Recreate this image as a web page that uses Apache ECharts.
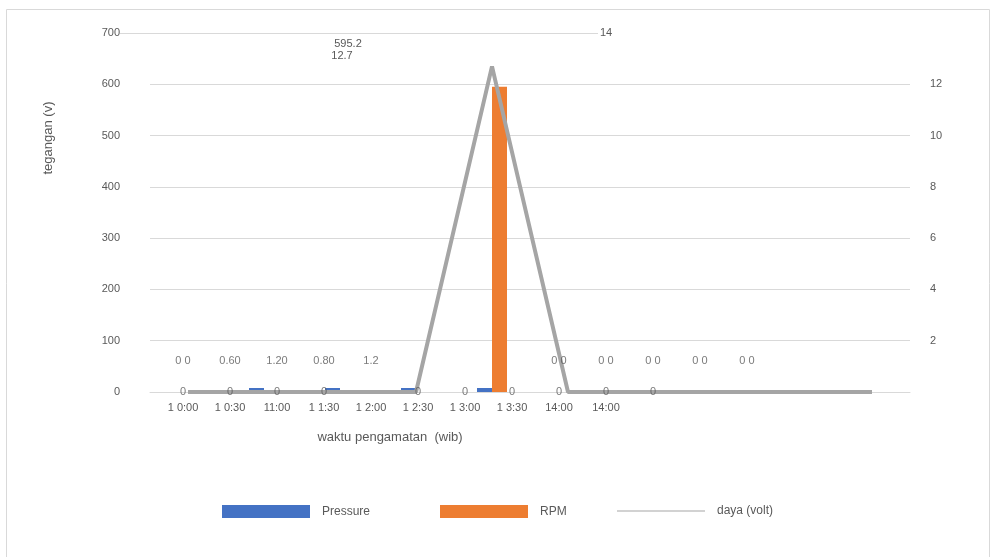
<!DOCTYPE html>
<html><head><meta charset="utf-8">
<script src="https://cdn.jsdelivr.net/npm/echarts@6/dist/echarts.min.js"></script>
<style>html,body{margin:0;padding:0;background:#fff}#c{width:995px;height:557px}</style>
</head><body><div id="c"></div>
<script>
// ---- data ----
var times = ['1 0:00','1 0:30','11:00','1 1:30','1 2:00','1 2:30','1 3:00','1 3:30','14:00','14:00'];
var pressure = [0, 0.6, 1.2, 0.8, 1.2, 0, 0, 0, 0, 0];
var rpm = [0, 0, 0, 0, 595.2, 0, 0, 0, 0, 0];
var daya = [0, 0, 0, 0, 12.7, 0, 0, 0, 0, 0];
// tick-label / data-label row (Excel's shifted label slots)
var slotLabels = ['1 0:00','1 0:30','11:00','1 1:30','1 2:00','1 2:30','1 3:00','1 3:30','14:00','14:00','','',''];
var upperLabels = ['0 0','0.60','1.20','0.80','1.2','','','','0 0','0 0','0 0','0 0','0 0'];
var zeroLabels = ['0','0','0','0','','0','0','0','0','0','0','',''];
var leftTicks = [0, 700, 100];
var rightTicks = [0, 14, 2];

var FONT = 'Liberation Sans';
var TXT = '#595959';
var GRID = '#d9d9d9';

function slotData(arr) {
  var out = [];
  arr.forEach(function (t, i) { if (t !== '') out.push({ value: [i, 0], label: { formatter: t } }); });
  return out;
}

var legendText = { color: TXT, fontSize: 12, padding: [0, 0, 0, 7] };

var chart = echarts.init(document.getElementById('c'));
chart.setOption({
  animation: false,
  textStyle: { fontFamily: FONT },
  grid: [
    { left: 150, right: 85, top: 33, bottom: 165 },
    { left: 159.5, right: 224.5, top: 33, bottom: 165 }
  ],
  legend: [
    { left: 222, top: 505, padding: 0, itemWidth: 88, itemHeight: 13, data: [{ name: 'Pressure', icon: 'rect' }], textStyle: legendText },
    { left: 440, top: 505, padding: 0, itemWidth: 88, itemHeight: 13, data: [{ name: 'RPM', icon: 'rect' }], textStyle: legendText },
    { left: 617, top: 505, padding: 0, itemWidth: 88, itemHeight: 13, data: [{ name: 'daya (volt)', icon: 'path://M0,6 L88,6 L88,7 L0,7 Z' }], textStyle: legendText }
  ],
  xAxis: [
    { type: 'category', gridIndex: 0, data: times,
      axisLine: { lineStyle: { color: GRID } }, axisTick: { show: false }, axisLabel: { show: false } },
    { type: 'category', gridIndex: 1, data: slotLabels,
      axisLine: { show: false }, axisTick: { show: false },
      axisLabel: { color: TXT, fontSize: 11, margin: 10, interval: 0 } }
  ],
  yAxis: [
    { type: 'value', gridIndex: 0, min: leftTicks[0], max: leftTicks[1], interval: leftTicks[2],
      axisLine: { show: false }, axisTick: { show: false },
      axisLabel: { color: TXT, fontSize: 11, margin: 30 },
      splitLine: { lineStyle: { color: GRID }, showMaxLine: false } },
    { type: 'value', gridIndex: 0, position: 'right', min: rightTicks[0], max: rightTicks[1], interval: rightTicks[2],
      axisLine: { show: false }, axisTick: { show: false }, splitLine: { show: false },
      axisLabel: { color: TXT, fontSize: 11, margin: 20, showMinLabel: false, showMaxLabel: false } },
    { type: 'value', gridIndex: 1, min: leftTicks[0], max: leftTicks[1], show: false }
  ],
  series: [
    { name: 'Pressure', type: 'bar', xAxisIndex: 0, yAxisIndex: 0, barWidth: 15, barGap: '0%', barMinHeight: 4,
      itemStyle: { color: '#4472c4' }, z: 3,
      data: pressure.map(function (v) { return v === 0 ? '-' : v; }) },
    { name: 'RPM', type: 'bar', xAxisIndex: 0, yAxisIndex: 0, barWidth: 15, barGap: '0%',
      itemStyle: { color: '#ed7d31' }, data: rpm },
    { name: 'daya (volt)', type: 'line', xAxisIndex: 0, yAxisIndex: 1, symbol: 'none',
      itemStyle: { color: '#a5a5a5' }, lineStyle: { color: '#a5a5a5', width: 4 }, data: daya },
    { name: 'zeroLbl', type: 'scatter', xAxisIndex: 1, yAxisIndex: 2, symbolSize: 0, z: 10, silent: true,
      label: { show: true, position: 'inside', color: TXT, fontSize: 11 }, data: slotData(zeroLabels) },
    { name: 'upperLbl', type: 'scatter', xAxisIndex: 1, yAxisIndex: 2, symbolSize: 0, z: 10, silent: true,
      label: { show: true, position: 'inside', offset: [0, -31], color: TXT, fontSize: 11 }, data: slotData(upperLabels) }
  ],
  graphic: [
    { type: 'rect', shape: { x: 6.5, y: 9.5, width: 983, height: 600 }, style: { fill: 'none', stroke: GRID, lineWidth: 1 }, silent: true, z: -10 },
    { type: 'line', shape: { x1: 120, y1: 33.5, x2: 598, y2: 33.5 }, style: { stroke: GRID, lineWidth: 1 }, silent: true },
    { type: 'text', x: 600, y: 33, style: { text: String(rightTicks[1]), fill: TXT, font: '11px ' + FONT, verticalAlign: 'middle' } },
    { type: 'text', x: 348, y: 44, style: { text: String(rpm[4]), fill: TXT, font: '11px ' + FONT, align: 'center', verticalAlign: 'middle' } },
    { type: 'text', x: 342, y: 56, style: { text: String(daya[4]), fill: TXT, font: '11px ' + FONT, align: 'center', verticalAlign: 'middle' } },
    { type: 'text', x: 48, y: 138, rotation: Math.PI / 2, style: { text: 'tegangan (v)', fill: TXT, font: '13px ' + FONT, align: 'center', verticalAlign: 'middle' } },
    { type: 'text', x: 390, y: 437, style: { text: 'waktu pengamatan  (wib)', fill: TXT, font: '13px ' + FONT, align: 'center', verticalAlign: 'middle' } }
  ]
});
</script>
</body></html>
